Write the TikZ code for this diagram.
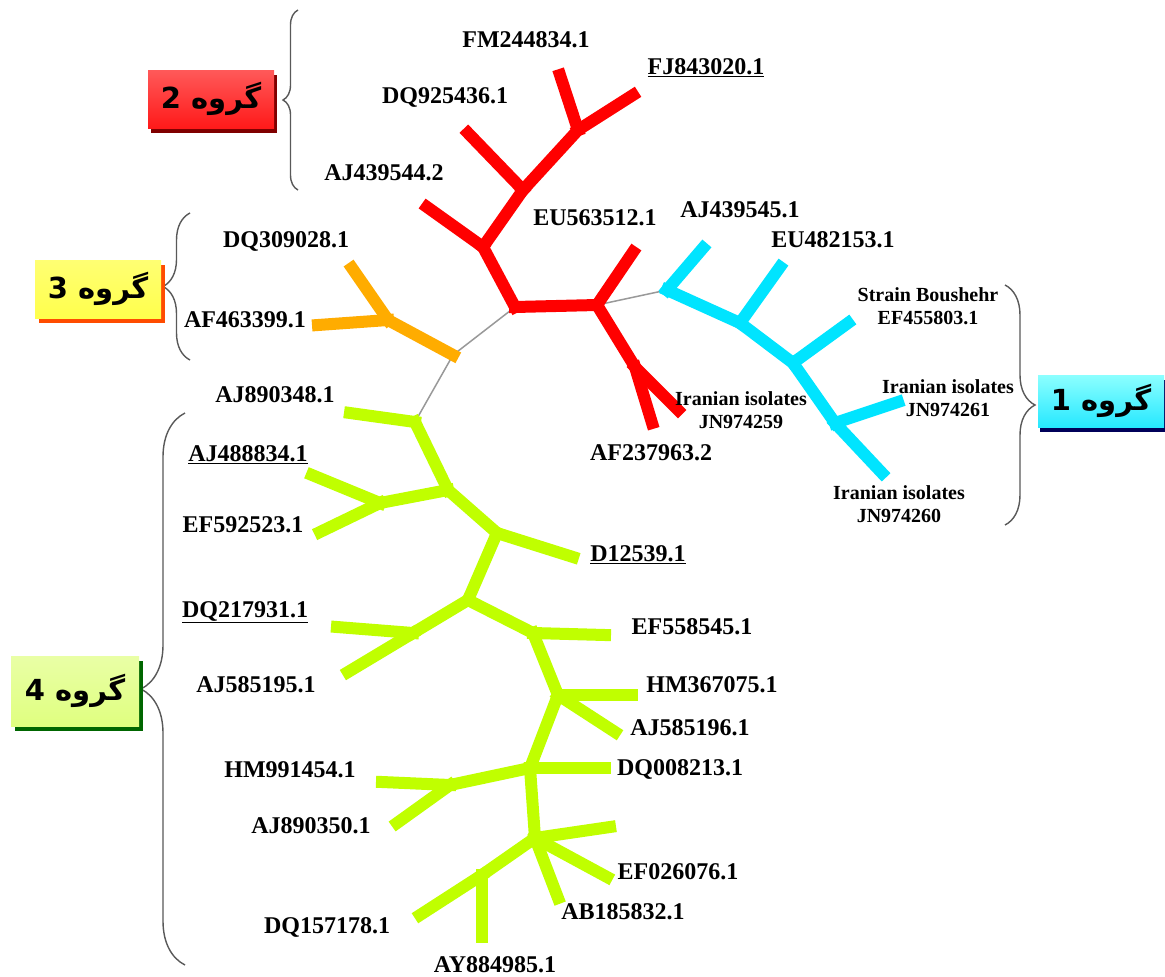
\documentclass[tikz,border=0pt]{standalone}
\usepackage{fontspec}
\setmainfont{Liberation Serif}
\newfontfamily\arabicfont[Script=Arabic]{DejaVu Sans}
\TeXXeTstate=1
\usetikzlibrary{decorations.pathreplacing, shadows}
\definecolor{treered}{RGB}{255,0,0}
\definecolor{treecyan}{RGB}{0,228,255}
\definecolor{treeorange}{RGB}{255,172,0}
\definecolor{treelime}{RGB}{192,255,0}
\tikzstyle{branch} = [line width=12pt, line cap=rect]
\tikzstyle{link} = [line width=1.5pt, gray!80]
\tikzstyle{acc} = [font=\bfseries\fontsize{24}{26}\selectfont, inner sep=0pt]
\tikzstyle{iso} = [font=\bfseries\fontsize{20}{23}\selectfont, inner sep=0pt, align=center]
\tikzstyle{grp} = [minimum width=126pt, minimum height=58pt, inner sep=0pt, font=\arabicfont\bfseries\fontsize{29}{32}\selectfont]
\tikzset{bracket/.style={decorate, decoration={brace, amplitude=#1}, line width=1.4pt, gray!70!black}}

\begin{document}
\begin{tikzpicture}[x=1pt, y=-1pt]
        \fill[white] (0,0) rectangle (1165,977);
        \useasboundingbox (0,0) rectangle (1165,977);

        % Branch points and tips
        \foreach \n/\x/\y in {
          r1/515/307, r2/597/305, r3/483/247, r4/523/190, r5/578/130, r6/635/367,
          taj439544/427/207, tdq925/468/133, tfm/560/75, tfj/633/95, teu563/633/252,
          taf237/652/423, tjn259/678/410,
          c1/667/290, c2/740/323, c3/793/363, c4/835/423,
          taj439545/703/248, teu482/780/267, tef455/848/323, tjn261/898/402, tjn260/882/473,
          j/453/355, k/415/422,
          o1/388/320, tdq309/352/268, taf463/318/325,
          g1/448/490, g2/380/503, g3/497/533, g4/468/600, g5/413/633, g6/533/633,
          g7/558/695, g8/530/768, g9/450/785, g10/535/838, g11/482/875,
          taj890348/350/413, taj488/312/475, tef592/320/532, td125/573/557,
          tdq217/337/627, taj585195/348/672, tef558/605/635, thm367/632/695,
          taj585196/615/732, tdq008/605/768, thm991/382/782, taj890350/397/823,
          tnone/610/827, tef026/607/877, tab185/558/898, tdq157/420/915, tay884/482/937
        }
        \coordinate (\n) at (\x,\y);

        % Thin links between groups
        \foreach \a/\b in {r2/c1, r1/j, j/k}
        \draw[link] (\a) -- (\b);

        % Group 2
        \foreach \a/\b in {r1/r2, r1/r3, r3/taj439544, r3/r4, r4/tdq925, r4/r5,
          r5/tfm, r5/tfj, r2/teu563, r2/r6, r6/taf237, r6/tjn259}
        \draw[branch, treered] (\a) -- (\b);

        % Group 1
        \foreach \a/\b in {c1/taj439545, c1/c2, c2/teu482, c2/c3, c3/tef455,
          c3/c4, c4/tjn261, c4/tjn260}
        \draw[branch, treecyan] (\a) -- (\b);

        % Group 3
        \foreach \a/\b in {j/o1, o1/tdq309, o1/taf463}
        \draw[branch, treeorange] (\a) -- (\b);

        % Group 4
        \foreach \a/\b in {k/taj890348, k/g1, g1/g2, g2/taj488, g2/tef592, g1/g3,
          g3/td125, g3/g4, g4/g5, g5/tdq217, g5/taj585195, g4/g6, g6/tef558,
          g6/g7, g7/thm367, g7/taj585196, g7/g8, g8/tdq008, g8/g9, g9/thm991,
          g9/taj890350, g8/g10, g10/tnone, g10/tef026, g10/tab185, g10/g11,
          g11/tdq157, g11/tay884}
        \draw[branch, treelime] (\a) -- (\b);

        % Accession labels
        \foreach \n/\x/\y/\txt in {
          lfm/526/40/FM244834.1, lfj/706/68/\underline{FJ843020.1},
          ldq925/445/97/DQ925436.1, laj439544/384/173/AJ439544.2,
          leu563/595/218/EU563512.1, laj439545/740/210/AJ439545.1,
          leu482/833/240/EU482153.1, laf237/651/453/AF237963.2,
          ldq309/286/241/DQ309028.1, laf463/245/320/AF463399.1,
          laj890348/275/395/AJ890348.1, laj488/248/455/\underline{AJ488834.1},
          lef592/243/525/EF592523.1, ld125/638/555/\underline{D12539.1},
          ldq217/245/612/\underline{DQ217931.1}, laj585195/256/685/AJ585195.1,
          lef558/692/627/EF558545.1, lhm367/712/685/HM367075.1,
          laj585196/690/728/AJ585196.1, ldq008/680/769/DQ008213.1,
          lhm991/290/770/HM991454.1, laj890350/311/826/AJ890350.1,
          lef026/678/872/EF026076.1, lab185/623/912/AB185832.1,
          ldq157/327/927/DQ157178.1, lay884/495/965/AY884985.1
        }
        \node[acc] (\n) at (\x,\y) {\txt};

        \node[iso] (lef455) at (928,306) {Strain Boushehr\\EF455803.1};
        \node[iso] (ljn261) at (948,398) {Iranian isolates\\JN974261};
        \node[iso] (ljn259) at (741,410) {Iranian isolates\\JN974259};
        \node[iso] (ljn260) at (899,504) {Iranian isolates\\JN974260};

        % Braces
        \draw[bracket=15] (298,190) -- (298,10);
        \draw[bracket=27] (190,360) -- (190,213);
        \draw[bracket=30] (1005,285) -- (1005,525);
        \draw[bracket=44] (185,965) -- (185,413);

        % Group boxes
        \node[grp, top color=red!65!white, middle color=red, bottom color=red!90!white,
          drop shadow={shadow xshift=3pt, shadow yshift=-5pt, fill=red!50!black, opacity=1}]
          (grp2) at (211,99) {\beginR گروه 2\endR};
        \node[grp, top color=yellow!55!white, middle color=treeorange!90!yellow, bottom color=yellow!70!white,
          drop shadow={shadow xshift=4pt, shadow yshift=-5pt, fill=orange!60!red, opacity=1}]
          (grp3) at (98,289) {\beginR گروه 3\endR};
        \node[grp, minimum height=52pt, top color=cyan!45!white, middle color=treecyan, bottom color=treecyan!85!white,
          drop shadow={shadow xshift=2pt, shadow yshift=-5pt, fill=blue!35!black, opacity=1}]
          (grp1) at (1101,401) {\beginR گروه 1\endR};
        \node[grp, minimum width=128pt, minimum height=70pt, top color=treelime!35!white, middle color=treelime, bottom color=treelime!50!white,
          drop shadow={shadow xshift=4pt, shadow yshift=-5pt, fill=green!40!black, opacity=1}]
          (grp4) at (75,691) {\beginR گروه 4\endR};
      \end{tikzpicture}
\end{document}
